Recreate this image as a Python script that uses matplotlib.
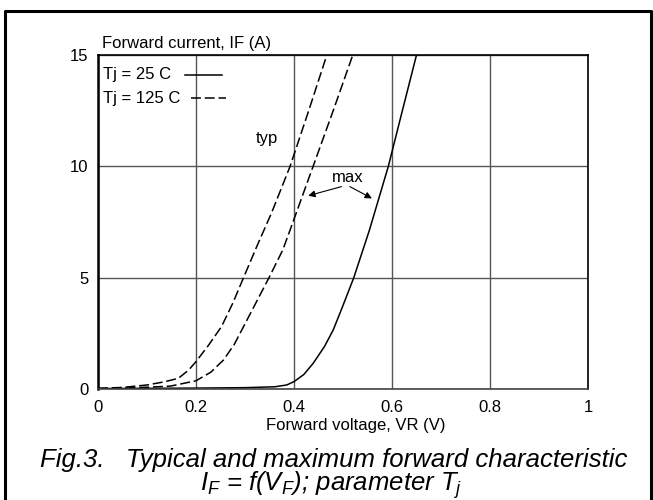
import matplotlib.pyplot as plt
from matplotlib.lines import Line2D

plt.rcParams['font.family'] = ['Liberation Sans', 'DejaVu Sans']
plt.rcParams['mathtext.fontset'] = 'custom'
plt.rcParams['mathtext.rm'] = 'Liberation Sans:italic'
plt.rcParams['mathtext.it'] = 'Liberation Sans:italic'

# typ, Tj = 125 C (dashed)
vf_typ_125 = [0.0, 0.05, 0.10, 0.135, 0.164, 0.185, 0.2, 0.225, 0.252, 0.275, 0.297, 0.325, 0.354, 0.392, 0.43, 0.467]
if_typ_125 = [0.03, 0.07, 0.18, 0.32, 0.48, 0.85, 1.23, 1.95, 2.8, 3.85, 5.0, 6.45, 7.9, 10.0, 12.5, 15.0]
# max, Tj = 125 C (dashed)
vf_max_125 = [0.0, 0.05, 0.10, 0.148, 0.2, 0.23, 0.256, 0.278, 0.297, 0.323, 0.349, 0.377, 0.392, 0.439, 0.48, 0.520]
if_max_125 = [0.02, 0.04, 0.08, 0.13, 0.37, 0.75, 1.3, 2.0, 2.8, 3.9, 5.0, 6.24, 7.14, 10.0, 12.5, 15.0]
# max, Tj = 25 C (solid)
vf_max_25 = [0.0, 0.1, 0.2, 0.3, 0.361, 0.385, 0.4, 0.42, 0.439, 0.462, 0.480, 0.50, 0.522, 0.554, 0.5925, 0.62, 0.650]
if_max_25 = [0.02, 0.03, 0.04, 0.06, 0.1, 0.18, 0.33, 0.65, 1.15, 1.9, 2.65, 3.75, 5.0, 7.14, 10.0, 12.4, 15.0]

x_ticks = [0, 0.2, 0.4, 0.6, 0.8, 1]
x_tick_labels = ['0', '0.2', '0.4', '0.6', '0.8', '1']
y_ticks = [0, 5, 10, 15]

W, H = 653, 500
fs = 12

fig = plt.figure(figsize=(6.53, 5), dpi=100)
ax = fig.add_axes([98 / W, 111 / H, 490 / W, 334 / H])

dash = (6.5, 2.5)
ax.plot(vf_typ_125, if_typ_125, color='black', lw=1.1, dashes=dash)
ax.plot(vf_max_125, if_max_125, color='black', lw=1.1, dashes=dash)
ax.plot(vf_max_25, if_max_25, color='black', lw=1.1)

ax.set_xlim(0, 1)
ax.set_ylim(0, 15)
ax.set_xticks(x_ticks)
ax.set_xticklabels(x_tick_labels)
ax.set_yticks(y_ticks)
ax.tick_params(length=0, labelsize=fs)
ax.tick_params(axis='x', pad=8)
ax.tick_params(axis='y', pad=7)
ax.grid(True, color='#555555', lw=1.0)
ax.set_axisbelow(True)
for side in ['top', 'right', 'bottom']:
    ax.spines[side].set_linewidth(1.2)
ax.spines['left'].set_linewidth(1.8)
ax.spines['bottom'].set_color('#444444')

# legend drawn as text + sample line, like the datasheet
def px(x, y):
    return x / W, 1 - y / H

fig.text(*px(103, 75), 'Tj = 25 C', fontsize=fs, ha='left', va='center')
fig.text(*px(103, 98), 'Tj = 125 C', fontsize=fs, ha='left', va='center')
fig.add_artist(Line2D([185 / W, 222 / W], [1 - 75 / H, 1 - 75 / H],
                      transform=fig.transFigure, color='black', lw=1.1))
fig.add_artist(Line2D([191 / W, 226 / W], [1 - 98 / H, 1 - 98 / H],
                      transform=fig.transFigure, color='black', lw=1.1,
                      dashes=dash))

ax.text(0.345, 11.27, 'typ', fontsize=fs, ha='center', va='center')
ax.text(0.51, 9.48, 'max', fontsize=fs, ha='center', va='center')
arrow = dict(arrowstyle='-|>', color='black', lw=0.8, mutation_scale=10,
             shrinkA=0, shrinkB=0)
ax.annotate('', xy=(0.429, 8.68), xytext=(0.497, 9.09), arrowprops=arrow)
ax.annotate('', xy=(0.559, 8.56), xytext=(0.514, 9.09), arrowprops=arrow)

fig.text(*px(102, 48), 'Forward current, IF (A)', fontsize=fs,
         ha='left', va='baseline')
fig.text(*px(356, 430), 'Forward voltage, VR (V)', fontsize=fs,
         ha='center', va='baseline')

fig.text(*px(334, 467),
         'Fig.3.   Typical and maximum forward characteristic',
         fontsize=18.5, style='italic', ha='center', va='baseline')
fig.text(*px(331, 491), r'$I_F$ = $f(V_F)$; parameter $T_j$',
         fontsize=18.5, style='italic', ha='center', va='baseline')

# page frame
fig.add_artist(Line2D([5 / W, 5 / W, 651 / W, 651 / W],
                      [-0.1, 1 - 11 / H, 1 - 11 / H, -0.1],
                      transform=fig.transFigure, color='black', lw=2.2))

fig.savefig('out.png', dpi=100)
